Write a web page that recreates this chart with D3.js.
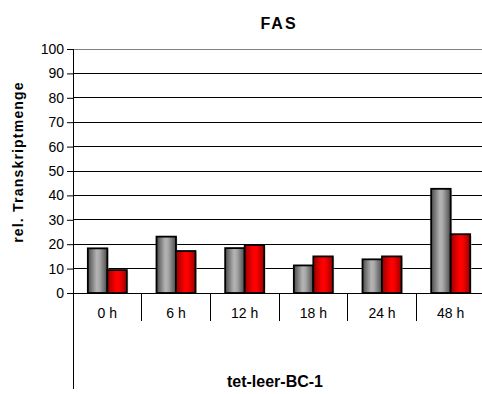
<!DOCTYPE html>
<html>
<head>
<meta charset="utf-8">
<script src="https://cdn.jsdelivr.net/npm/d3@7"></script>
<style>
  html, body { margin: 0; padding: 0; background: #fff; }
  svg { display: block; font-family: "Liberation Sans", Arial, sans-serif; }
</style>
</head>
<body>
<svg id="chart" width="482" height="394"></svg>
<script>
// Time points and measured transcript amounts
const categories = ["0 h", "6 h", "12 h", "18 h", "24 h", "48 h"];
const seriesGray = [18.3, 23.1, 18.4, 11.3, 13.8, 42.7];
const seriesRed = [9.4, 17.2, 19.7, 15.0, 15.0, 24.1];
const yTicks = [0, 10, 20, 30, 40, 50, 60, 70, 80, 90, 100];

const svg = d3.select("#chart");
const plotLeft = 73, plotRight = 485, plotTop = 49, plotBottom = 293;

const x = d3.scaleBand().domain(categories).range([plotLeft, plotRight]).paddingInner(0).paddingOuter(0);
const y = d3.scaleLinear().domain([0, 100]).range([plotBottom, plotTop]);

// Gradients for the cylinder-like bar shading
const defs = svg.append("defs");
function grad(id, stops) {
  const g = defs.append("linearGradient").attr("id", id).attr("x1", "0").attr("x2", "1").attr("y1", "0").attr("y2", "0");
  stops.forEach(([o, c]) => g.append("stop").attr("offset", o).attr("stop-color", c));
}
grad("gGray", [[0, "#4a4a4a"], [0.45, "#b4b4b4"], [0.6, "#a8a8a8"], [1, "#4a4a4a"]]);
grad("gRed", [[0, "#990000"], [0.45, "#ff0000"], [0.6, "#ff0000"], [1, "#990000"]]);

// Horizontal gridlines
svg.append("g").selectAll("line").data(yTicks.filter(d => d > 0)).join("line")
  .attr("x1", plotLeft).attr("x2", plotRight)
  .attr("y1", d => y(d)).attr("y2", d => y(d))
  .attr("stroke", d => d === 100 ? "#808080" : "#000").attr("stroke-width", 1)
  .attr("shape-rendering", "crispEdges");

// Y axis
const yAxis = svg.append("g").attr("transform", `translate(${plotLeft},0)`)
  .call(d3.axisLeft(y).tickValues(yTicks).tickSize(6).tickPadding(3));
yAxis.select(".domain").remove();
yAxis.selectAll(".tick line").attr("stroke", "#000");
yAxis.selectAll("text").attr("font-size", 14).attr("fill", "#000")
  .attr("font-family", "Liberation Sans, Arial, sans-serif");
svg.append("line").attr("x1", plotLeft).attr("x2", plotLeft).attr("y1", plotTop).attr("y2", 389)
  .attr("stroke", "#000").attr("shape-rendering", "crispEdges");

// Category axis with separator ticks
svg.append("line").attr("x1", plotLeft).attr("x2", plotRight).attr("y1", plotBottom).attr("y2", plotBottom)
  .attr("stroke", "#000").attr("shape-rendering", "crispEdges");
svg.append("g").selectAll("line").data(categories.slice(1)).join("line")
  .attr("x1", d => x(d)).attr("x2", d => x(d))
  .attr("y1", plotBottom).attr("y2", 321)
  .attr("stroke", "#000").attr("shape-rendering", "crispEdges");
svg.append("g").selectAll("text").data(categories).join("text")
  .attr("x", d => x(d) + x.bandwidth() / 2).attr("y", 318)
  .attr("text-anchor", "middle").attr("font-size", 14).attr("fill", "#000")
  .text(d => d);

// Bars
const barW = 19.5;
function drawBars(values, fill, offset) {
  const sel = svg.append("g").selectAll("g").data(categories).join("g");
  // soft shadow
  sel.append("rect")
    .attr("x", d => x(d) + x.bandwidth() / 2 + offset + 1.5)
    .attr("y", (d, i) => y(values[i]) + 1.5)
    .attr("width", barW).attr("height", (d, i) => plotBottom - y(values[i]) - 1.5)
    .attr("fill", "#c8c8c8").attr("opacity", 0.6);
  sel.append("rect")
    .attr("x", d => x(d) + x.bandwidth() / 2 + offset)
    .attr("y", (d, i) => y(values[i]))
    .attr("width", barW).attr("height", (d, i) => plotBottom - y(values[i]))
    .attr("fill", fill).attr("stroke", "#000").attr("stroke-width", 1.8);
}
drawBars(seriesGray, "url(#gGray)", -barW);
drawBars(seriesRed, "url(#gRed)", 0);

// Titles
svg.append("text").attr("x", 279).attr("y", 29).attr("text-anchor", "middle")
  .attr("font-size", 16).attr("font-weight", "bold").attr("letter-spacing", 2).text("FAS");
svg.append("text").attr("x", 275).attr("y", 387).attr("text-anchor", "middle")
  .attr("font-size", 16).attr("font-weight", "bold").text("tet-leer-BC-1");
svg.append("text").attr("transform", "translate(23,162) rotate(-90)")
  .attr("text-anchor", "middle").attr("font-size", 14).attr("font-weight", "bold")
  .attr("letter-spacing", 1.2)
  .text("rel. Transkriptmenge");
</script>
</body>
</html>
